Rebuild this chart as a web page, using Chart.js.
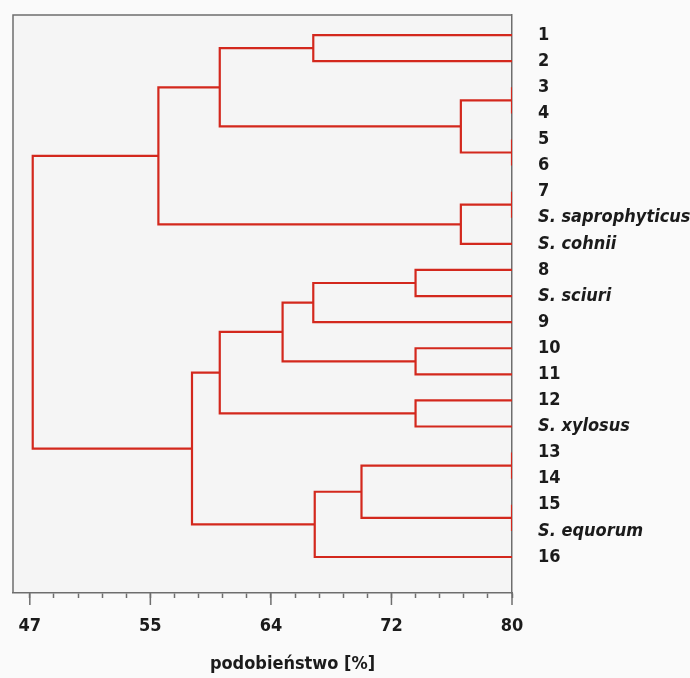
<!DOCTYPE html>
<html lang="pl">
<head>
<meta charset="utf-8">
<title>Dendrogram - podobieństwo</title>
<script src="https://cdn.jsdelivr.net/npm/chart.js@4.4.1/dist/chart.umd.min.js"></script>
<style>
  html, body { margin: 0; padding: 0; background: #fafafa; }
  canvas { display: block; }
</style>
</head>
<body>
<canvas id="dendro" width="690" height="678"></canvas>
<script>
// Liscie dendrogramu (od gory do dolu)
const leafLabels = [
  '1', '2', '3', '4', '5', '6', '7',
  'S. saprophyticus', 'S. cohnii',
  '8', 'S. sciuri', '9', '10', '11', '12', 'S. xylosus',
  '13', '14', '15', 'S. equorum', '16',
];

// Laczenia: wezly 0..20 to liscie, kolejne laczenia maja numery 21, 22, ...
const mergeLeft  = [0, 2, 4, 22, 21, 6, 26, 25, 9, 29, 12, 30, 14, 32, 16, 18, 35, 37, 34, 28];
const mergeRight = [1, 3, 5, 23, 24, 7, 8, 27, 10, 11, 13, 31, 15, 33, 17, 19, 36, 20, 38, 39];
const mergeLevel = [66.4, 80, 80, 76.5, 60, 80, 76.5, 55.8, 73.4, 66.4, 73.4, 64.3, 73.4, 60, 80, 80, 69.7, 66.5, 58.1, 47.2];

// Os X
const leafLevel = 80;
const xTickValues = [47, 55.25, 63.5, 71.75, 80];
const xTickLabels = ['47', '55', '64', '72', '80'];
const xTitle = 'podobieństwo [%]';

const FONT = "'DejaVu Sans Condensed', 'DejaVu Sans', sans-serif";
const FONT_SIZE = 18;
const RED = '#d3281d';
const GRAY = '#6e6e6e';
const INK = '#1b1b1b';

// pozycje wezlow
const nodeY = leafLabels.map((_, i) => i);
const nodeX = leafLabels.map(() => leafLevel);
mergeLeft.forEach((a, k) => {
  const b = mergeRight[k];
  nodeY.push((nodeY[a] + nodeY[b]) / 2);
  nodeX.push(mergeLevel[k]);
});

// kazde laczenie = jedna linia w ksztalcie litery U
const datasets = mergeLeft.map((a, k) => {
  const b = mergeRight[k];
  const lvl = mergeLevel[k];
  return {
    data: [
      { x: nodeX[a], y: nodeY[a] },
      { x: lvl, y: nodeY[a] },
      { x: lvl, y: nodeY[b] },
      { x: nodeX[b], y: nodeY[b] },
    ],
    showLine: true,
    borderColor: RED,
    backgroundColor: RED,
    borderWidth: 2.2,
    borderJoinStyle: 'miter',
    pointRadius: 0,
    pointHoverRadius: 0,
    tension: 0,
    fill: false,
  };
});

// male kreski osi X (5 na kazdy przedzial)
const xMinor = [];
xTickValues.forEach((v, i) => {
  if (i === xTickValues.length - 1) { xMinor.push(v); return; }
  const step = (xTickValues[i + 1] - v) / 5;
  for (let j = 0; j < 5; j++) xMinor.push(v + j * step);
});

const framePlugin = {
  id: 'frame',
  beforeDraw(chart) {
    const { ctx, chartArea: a } = chart;
    ctx.save();
    ctx.fillStyle = '#f5f5f5';
    ctx.fillRect(a.left, a.top, a.right - a.left, a.bottom - a.top);
    ctx.restore();
  },
  beforeDatasetsDraw(chart) {
    const { ctx, chartArea: a } = chart;
    ctx.save();
    ctx.strokeStyle = GRAY;
    ctx.lineWidth = 1.5;
    ctx.beginPath();
    ctx.moveTo(a.left, a.bottom);
    ctx.lineTo(a.left, a.top);
    ctx.lineTo(a.right, a.top);
    ctx.stroke();
    ctx.restore();
  },
  afterDraw(chart) {
    const { ctx, chartArea: a } = chart;
    const xs = chart.scales.x;
    ctx.save();
    // dluzsze kreski glowne
    ctx.strokeStyle = GRAY;
    ctx.lineWidth = 1.5;
    xTickValues.forEach(v => {
      const px = xs.getPixelForValue(v);
      ctx.beginPath();
      ctx.moveTo(px, a.bottom);
      ctx.lineTo(px, a.bottom + 12);
      ctx.stroke();
    });
    // tytul osi
    ctx.fillStyle = INK;
    ctx.font = 'bold ' + FONT_SIZE + 'px ' + FONT;
    ctx.textAlign = 'center';
    ctx.textBaseline = 'middle';
    ctx.fillText(xTitle, (a.left + a.right) / 2 + 30, 664);
    ctx.restore();
  },
};

new Chart(document.getElementById('dendro'), {
  type: 'scatter',
  plugins: [framePlugin],
  data: { datasets },
  options: {
    responsive: false,
    animation: false,
    layout: { padding: { left: 13, top: 15, right: 0, bottom: 0 } },
    plugins: {
      colors: { enabled: false },
      legend: { display: false },
      tooltip: { enabled: false },
    },
    scales: {
      x: {
        type: 'linear',
        position: 'bottom',
        min: 45.85,
        max: 80,
        afterBuildTicks: (axis) => { axis.ticks = xMinor.map(v => ({ value: v })); },
        afterFit: (axis) => {
          axis.height = 85;
          axis.paddingLeft = 0;
          axis.paddingRight = 0;
        },
        grid: { drawOnChartArea: false, tickLength: 5, tickColor: GRAY, tickWidth: 1.5 },
        border: { display: true, color: GRAY, width: 1.5 },
        ticks: {
          autoSkip: false,
          maxRotation: 0,
          padding: 18,
          color: INK,
          font: { family: FONT, size: FONT_SIZE, weight: 'bold' },
          callback: (value, index) => (index % 5 === 0 ? xTickLabels[index / 5] : ''),
        },
      },
      y: {
        type: 'linear',
        position: 'right',
        reverse: true,
        min: -0.77,
        max: 21.38,
        afterBuildTicks: (axis) => { axis.ticks = leafLabels.map((_, i) => ({ value: i })); },
        afterFit: (axis) => {
          axis.width = 178;
          axis.paddingTop = 0;
          axis.paddingBottom = 0;
        },
        grid: { display: false, drawTicks: false },
        border: { display: true, color: GRAY, width: 1.5 },
        ticks: {
          autoSkip: false,
          padding: 26,
          color: INK,
          font: (c) => ({
            family: FONT,
            size: FONT_SIZE,
            weight: 'bold',
            style: leafLabels[c.index] && leafLabels[c.index].startsWith('S.') ? 'italic' : 'normal',
          }),
          callback: (value) => leafLabels[value],
        },
      },
    },
  },
});
</script>
</body>
</html>
